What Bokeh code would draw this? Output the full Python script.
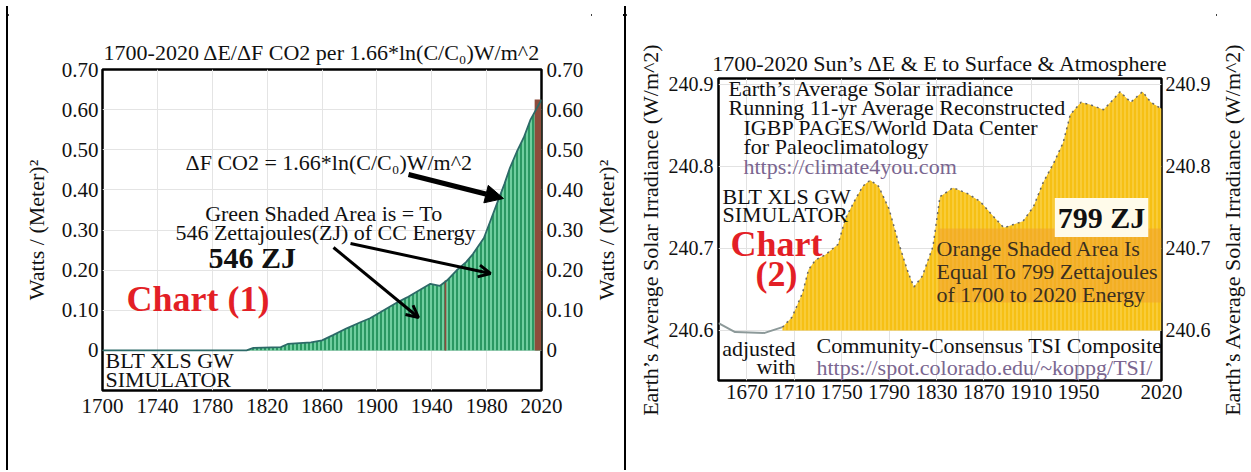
import math
import numpy as np
from bokeh.plotting import figure
from bokeh.models import (LinearAxis, FixedTicker, Label, Arrow, NormalHead, OpenHead,
                          BoxAnnotation, Div, ColumnDataSource, Title)
from bokeh.layouts import row, column
from bokeh.embed import file_html
from bokeh.resources import INLINE

FONT = "Liberation Serif"

# ---------------- Chart (1) data ----------------
co2_years = [1700, 1805, 1810, 1830, 1835, 1852, 1860, 1868, 1878, 1888, 1895, 1905,
             1915, 1922, 1930, 1939, 1946, 1951, 1958, 1965, 1970, 1978, 1983, 1988,
             1993, 1997, 2002, 2007, 2012, 2016, 2020]
co2_forcing = [0, 0, 0.006, 0.008, 0.016, 0.02, 0.025, 0.038, 0.055, 0.07, 0.08, 0.1,
               0.12, 0.132, 0.148, 0.166, 0.161, 0.174, 0.199, 0.22, 0.24, 0.28, 0.325, 0.37,
               0.415, 0.455, 0.495, 0.53, 0.575, 0.6, 0.625]
brown_years = [1950, 2017.5]
brown_tops = [0.174, 0.625]
x1_ticks = [1700, 1740, 1780, 1820, 1860, 1900, 1940, 1980, 2020]
y1_ticks = [0, 0.1, 0.2, 0.3, 0.4, 0.5, 0.6, 0.7]
y1_tick_labels = ["0", "0.10", "0.20", "0.30", "0.40", "0.50", "0.60", "0.70"]

# ---------------- Chart (2) data ----------------
tsi_years = [1646, 1660, 1685, 1700, 1708, 1717, 1722, 1728, 1736, 1747, 1753, 1762,
             1768, 1774, 1781, 1790, 1798, 1806, 1811, 1818, 1827, 1833, 1844, 1856,
             1867, 1878, 1887, 1895, 1903, 1912, 1920, 1929, 1937, 1943, 1952, 1960,
             1971, 1977, 1985, 1994, 2004, 2011, 2020]
tsi_values = [240.609, 240.598, 240.597, 240.604, 240.616, 240.646, 240.674, 240.686,
              240.692, 240.705, 240.736, 240.761, 240.776, 240.783, 240.776, 240.748,
              240.707, 240.671, 240.653, 240.666, 240.702, 240.763, 240.774, 240.767,
              240.757, 240.739, 240.725, 240.729, 240.733, 240.751, 240.780, 240.804,
              240.829, 240.863, 240.878, 240.875, 240.869, 240.878, 240.891, 240.878,
              240.891, 240.878, 240.870]
x2_ticks = [1670, 1710, 1750, 1790, 1830, 1870, 1910, 1950, 2020]
y2_ticks = [240.6, 240.7, 240.8, 240.9]
y2_tick_labels = ["240.6", "240.7", "240.8", "240.9"]

Y1_LABEL = "Watts / (Meter)\u00b2"
Y2_LABEL = "Earth\u2019s Average Solar Irradiance (W/m^2)"


def style_axis(ax, size, standoff, label_size="22px", label_standoff=8):
    ax.axis_line_color = None
    ax.major_tick_line_color = None
    ax.minor_tick_line_color = None
    ax.major_tick_out = 0
    ax.major_tick_in = 0
    ax.major_label_standoff = standoff
    ax.major_label_text_font = FONT
    ax.major_label_text_font_size = size
    ax.major_label_text_color = "#111111"
    ax.axis_label_text_font = FONT
    ax.axis_label_text_font_style = "normal"
    ax.axis_label_text_font_size = label_size
    ax.axis_label_text_color = "#111111"
    ax.axis_label_standoff = label_standoff


def title_strip(text, width, top, bottom, left_border):
    """Narrow strip to the right of a chart holding its right-hand axis title,
    which reads bottom-to-top like the left one."""
    s = figure(width=width, height=464, output_backend="svg", toolbar_location=None,
               x_range=(0, 1), y_range=(0, 1), x_axis_location=None, y_axis_location=None,
               min_border_left=left_border, min_border_right=0,
               min_border_top=top, min_border_bottom=bottom)
    s.frame_align = False
    s.grid.visible = False
    s.outline_line_color = None
    s.border_fill_color = "white"
    s.background_fill_color = "white"
    s.add_layout(Title(text=text, align="center", text_font=FONT, text_font_size="22px",
                       text_font_style="normal", text_color="#111111", standoff=1), "left")
    return s


def lab(p, x, y, text, size="22px", align="left", color="#111111", style="normal", **kw):
    l = Label(x=x, y=y, text=text, text_font=FONT, text_font_size=size,
              text_align=align, text_baseline="middle", text_color=color,
              text_font_style=style, **kw)
    p.add_layout(l)
    return l


# ================= Figure 1 =================
p1 = figure(width=583, height=464, x_range=(1700, 2020), y_range=(-0.1, 0.7),
            output_backend="svg", toolbar_location=None,
            min_border_left=94, min_border_right=50, min_border_top=63, min_border_bottom=80,
            title="1700-2020 \u0394E/\u0394F CO2 per 1.66*ln(C/C\u2080)W/m^2")
p1.frame_align = False
p1.title.align = "center"
p1.title.text_font = FONT
p1.title.text_font_size = "22px"
p1.title.text_font_style = "normal"
p1.title.text_color = "#111111"
p1.title.standoff = 10
p1.outline_line_color = "black"
p1.outline_line_width = 2.5
p1.border_fill_color = "white"
p1.background_fill_color = "white"


def c1(px, py):
    return 1700 + (px - 102) * 320 / 439, 0.7 - (py - 69) * 0.8 / 321


p1.xaxis.ticker = FixedTicker(ticks=x1_ticks)
style_axis(p1.xaxis[0], "21px", 8)
p1.yaxis.ticker = FixedTicker(ticks=y1_ticks)
p1.yaxis.major_label_overrides = dict(zip(y1_ticks, y1_tick_labels))
p1.yaxis.axis_label = Y1_LABEL
style_axis(p1.yaxis[0], "21px", 4, label_standoff=10)
r1 = LinearAxis(ticker=FixedTicker(ticks=y1_ticks),
                major_label_overrides=dict(zip(y1_ticks, y1_tick_labels)))
style_axis(r1, "21px", 5)
p1.add_layout(r1, "right")

for g in (p1.xgrid, p1.ygrid):
    g.grid_line_color = "#e4e4e4"
    g.grid_line_width = 1
p1.xgrid.ticker = FixedTicker(ticks=x1_ticks)
p1.ygrid.ticker = FixedTicker(ticks=y1_ticks)

src1 = ColumnDataSource(dict(x=co2_years, y=co2_forcing))
p1.varea(x="x", y1=0, y2="y", source=src1, fill_color="#2a9862",
         hatch_pattern="|", hatch_color="#9ff2c8", hatch_weight=1.4, hatch_scale=4, hatch_alpha=0.85)
p1.vbar(x=brown_years, top=brown_tops, bottom=0, width=[1.2, 5], fill_color="#8d4c3c",
        line_color=None)
p1.line("x", "y", source=src1, line_color="#2d6a68", line_width=1.8)

x, y = c1(185, 162); lab(p1, x, y, "\u0394F CO2 = 1.66*ln(C/C\u2080)W/m^2")
x, y = c1(324, 213); lab(p1, x, y, "Green Shaded Area is = To", align="center")
x, y = c1(325, 232); lab(p1, x, y, "546 Zettajoules(ZJ) of CC Energy", align="center")
x, y = c1(208, 257); lab(p1, x, y, "546 ZJ", size="30px", style="bold")
x, y = c1(126, 298); lab(p1, x, y, "Chart (1)", size="36px", style="bold", color="#e31f26")
x, y = c1(105, 360); lab(p1, x, y, "BLT XLS GW")
x, y = c1(105, 379); lab(p1, x, y, "SIMULATOR")

xs, ys = c1(408, 174); xe, ye = c1(503, 198)
p1.add_layout(Arrow(end=NormalHead(size=18, fill_color="black", line_color="black"),
                    x_start=xs, y_start=ys, x_end=xe, y_end=ye, line_width=5, line_color="black"))
xs, ys = c1(333, 247); xe, ye = c1(418, 317)
p1.add_layout(Arrow(end=OpenHead(size=12, line_width=3, line_color="black"),
                    x_start=xs, y_start=ys, x_end=xe, y_end=ye, line_width=3, line_color="black"))
xs, ys = c1(350, 243); xe, ye = c1(490, 273)
p1.add_layout(Arrow(end=OpenHead(size=12, line_width=3, line_color="black"),
                    x_start=xs, y_start=ys, x_end=xe, y_end=ye, line_width=3, line_color="black"))

p1r = title_strip(Y1_LABEL, 32, 63, 80, 28)

# ================= Figure 2 =================
p2 = figure(width=590, height=464, x_range=(1646, 2020), y_range=(240.539, 240.907),
            output_backend="svg", toolbar_location=None,
            min_border_left=92, min_border_right=55, min_border_top=72, min_border_bottom=90,
            title="1700-2020 Sun\u2019s \u0394E & E to Surface & Atmosphere")
p2.frame_align = False
p2.title.align = "center"
p2.title.text_font = FONT
p2.title.text_font_size = "22px"
p2.title.text_font_style = "normal"
p2.title.text_color = "#111111"
p2.title.standoff = 5
p2.outline_line_color = "black"
p2.outline_line_width = 2.5
p2.border_fill_color = "white"
p2.background_fill_color = "white"


def c2(px, py):
    return 1646 + (px - 718) * 374 / 443, 240.907 - (py - 78) * 0.368 / 302


p2.xaxis.ticker = FixedTicker(ticks=x2_ticks)
style_axis(p2.xaxis[0], "21px", 4)
p2.yaxis.ticker = FixedTicker(ticks=y2_ticks)
p2.yaxis.major_label_overrides = dict(zip(y2_ticks, y2_tick_labels))
p2.yaxis.axis_label = Y2_LABEL
style_axis(p2.yaxis[0], "20px", 5, label_standoff=3)
r2 = LinearAxis(ticker=FixedTicker(ticks=y2_ticks),
                major_label_overrides=dict(zip(y2_ticks, y2_tick_labels)))
style_axis(r2, "20px", 4)
p2.add_layout(r2, "right")

for g in (p2.xgrid, p2.ygrid):
    g.grid_line_color = "#e2e2e2"
    g.grid_line_width = 1
p2.xgrid.ticker = FixedTicker(ticks=x2_ticks)
p2.ygrid.ticker = FixedTicker(ticks=y2_ticks)

ty = np.array(tsi_years, dtype=float)
tv = np.array(tsi_values, dtype=float)
pre = ty <= 1700
post = ty >= 1700
p2.line(ty[pre], tv[pre], line_color="#8c9999", line_width=2)
p2.varea(x=ty[post], y1=240.6, y2=tv[post], fill_color="#f6c014",
         hatch_pattern="|", hatch_color="#fde68e", hatch_weight=1.0, hatch_scale=4, hatch_alpha=0.6)

xa, ya = c2(938, 302); xb, yb = c2(1161, 228)
p2.add_layout(BoxAnnotation(left=xa, right=xb, bottom=ya, top=yb, fill_color="#f0a030",
                            fill_alpha=0.55, line_color=None))
p2.line(ty[post], tv[post], line_color="#666666", line_width=1.5, line_dash="dotted")

x, y = c2(728, 88); lab(p2, x, y, "Earth\u2019s Average Solar irradiance")
x, y = c2(728, 107); lab(p2, x, y, "Running 11-yr Average Reconstructed")
x, y = c2(743, 127); lab(p2, x, y, "IGBP PAGES/World Data Center")
x, y = c2(743, 146); lab(p2, x, y, "for Paleoclimatology")
x, y = c2(743, 166); lab(p2, x, y, "https://climate4you.com", color="#7a6690")
x, y = c2(722, 196); lab(p2, x, y, "BLT XLS GW")
x, y = c2(722, 214); lab(p2, x, y, "SIMULATOR")
x, y = c2(776, 243); lab(p2, x, y, "Chart", size="36px", style="bold", color="#e31f26", align="center")
x, y = c2(776, 273); lab(p2, x, y, "(2)", size="36px", style="bold", color="#e31f26", align="center")
x, y = c2(1101, 217)
zj = lab(p2, x, y, "799 ZJ", size="30px", style="bold", align="center",
         background_fill_color="#fffbea")
try:
    zj.padding = 3
except Exception:
    pass
x, y = c2(936, 248); lab(p2, x, y, "Orange Shaded Area Is", color="#3a2f20")
x, y = c2(936, 271); lab(p2, x, y, "Equal To 799 Zettajoules", color="#3a2f20")
x, y = c2(936, 294); lab(p2, x, y, "of 1700 to 2020 Energy", color="#3a2f20")
x, y = c2(795, 348); lab(p2, x, y, "adjusted", align="right")
x, y = c2(795, 366); lab(p2, x, y, "with", align="right")
x, y = c2(816, 345); lab(p2, x, y, "Community-Consensus TSI Composite")
x, y = c2(816, 367); lab(p2, x, y, "https://spot.colorado.edu/~koppg/TSI/", color="#7a6690")

p2r = title_strip(Y2_LABEL, 32, 72, 90, 29)


# ================= table borders =================
def rule(w, h, inner_w, inner_h, dx, dy):
    return Div(text=(f'<div style="position:relative;left:{dx}px;top:{dy}px;'
                     f'width:{inner_w}px;height:{inner_h}px;background:#000"></div>'),
               width=w, height=h, margin=0)


layout = column(rule(1248, 6, 1242, 2, 6, 4),
                row(rule(8, 464, 2, 464, 6, 0), p1, p1r, rule(3, 464, 2, 464, 1, 0), p2, p2r,
                    spacing=0),
                spacing=0)

open("out.html", "w").write(file_html(layout, INLINE))
